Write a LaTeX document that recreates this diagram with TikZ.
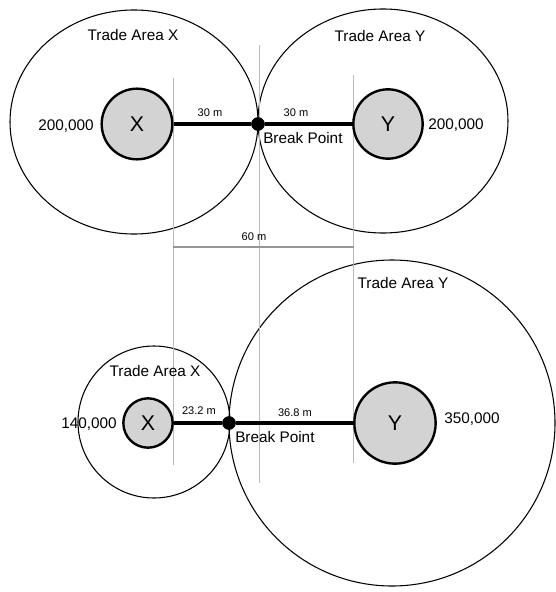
\documentclass[tikz,border=0pt]{standalone}
\usepackage{fontspec}
\setmainfont{Liberation Sans}
\definecolor{storegray}{RGB}{211,211,211}
\definecolor{guidegray}{RGB}{185,185,185}
\definecolor{rulegray}{RGB}{150,150,150}
\tikzset{
  area/.style={line width=0.8pt},
  store/.style={circle, draw, line width=1.8pt, fill=storegray, inner sep=0pt, font=\fontsize{16}{18}\selectfont},
  breakpt/.style={circle, fill=black, inner sep=0pt, minimum size=10pt},
  road/.style={line width=3pt},
  guide/.style={draw=guidegray, line width=0.6pt},
  lbl/.style={inner sep=0.75pt, font=\fontsize{11.5}{14}\selectfont},
  dist/.style={inner sep=0.75pt, font=\fontsize{8.3}{10}\selectfont},
}
\begin{document}
\begin{tikzpicture}[x=0.75pt,y=0.75pt,yscale=-1,xscale=1]
  \path[use as bounding box] (0,0) rectangle (556,592);

  % trade areas
  \draw[area] (134,122) ellipse [x radius=124, y radius=112];
  \draw[area] (383,121) ellipse [x radius=125, y radius=112];
  \draw[area] (154,422) circle [radius=76];
  \draw[area] (392,423) circle [radius=163];

  % guide lines
  \draw[guide] (173,78) -- (173,465);
  \draw[guide] (259,45) -- (259,483);
  \draw[guide] (353,75) -- (353,463);
  \draw[draw=rulegray, line width=1.5pt] (173,247) -- (354,247);
  \node[dist] (sixty) at (254,237) {60 m};

  % top: equal stores
  \node[store, minimum size=53pt] (x1) at (137,124) {X};
  \node[store, minimum size=52pt] (y1) at (388,124) {Y};
  \node[breakpt] (bp1) at (258,124) {};
  \draw[road] (x1.east) -- (bp1) -- (y1.west);
  \node[breakpt] at (bp1) {};

  \draw (133,35) node [lbl] (tax1) {Trade Area X};
  \draw (380,36) node [lbl] (tay1) {Trade Area Y};
  \draw (66,126) node [lbl] (popx1) {200,000};
  \draw (456,125) node [lbl] (popy1) {200,000};
  \draw (210,113) node [dist] (dx1) {30 m};
  \draw (296,113) node [dist] (dy1) {30 m};
  \draw (262,138) node [lbl, anchor=west] (bpl1) {Break Point};

  % bottom: unequal stores
  \node[store, minimum size=37pt] (x2) at (148,423) {X};
  \node[store, minimum size=61pt] (y2) at (395,423) {Y};
  \node[breakpt] (bp2) at (229,423) {};
  \draw[road] (x2.east) -- (bp2) -- (y2.west);
  \node[breakpt] at (bp2) {};

  \draw (155,371) node [lbl] (tax2) {Trade Area X};
  \draw (403,283) node [lbl] (tay2) {Trade Area Y};
  \draw (89,424) node [lbl] (popx2) {140,000};
  \draw (472,419) node [lbl] (popy2) {350,000};
  \draw (199,411) node [dist] (dx2) {23.2 m};
  \draw (295,413) node [dist] (dy2) {36.8 m};
  \draw (234,437) node [lbl, anchor=west] (bpl2) {Break Point};
\end{tikzpicture}
\end{document}
